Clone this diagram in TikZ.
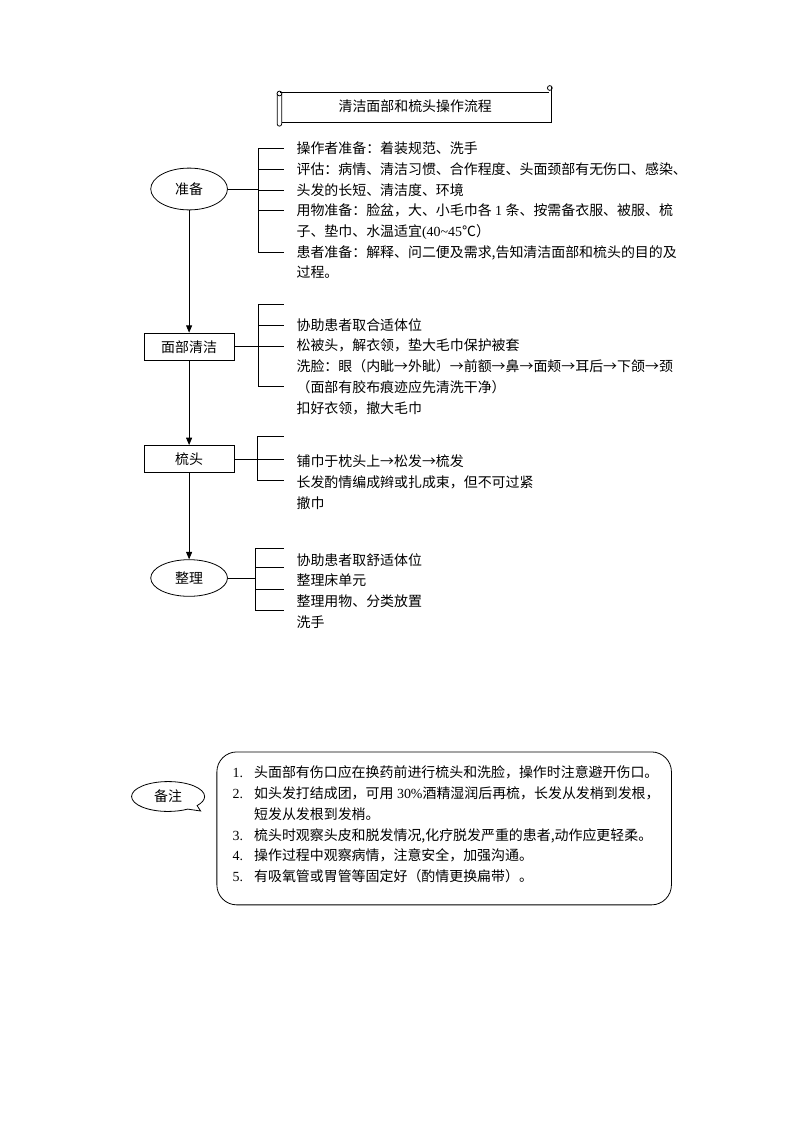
\documentclass[tikz,border=0pt]{standalone}
\usepackage{fontspec}
\setmainfont{Liberation Serif}
\newfontfamily\cjk{Noto Sans CJK SC}
\usetikzlibrary{arrows.meta, positioning, shapes.geometric, shapes.callouts}

\begin{document}
\begin{tikzpicture}[
    x=0.026482cm, y=-0.026471cm,
    line width=0.6pt,
    every node/.style={font=\cjk\fontsize{10.5}{15.6}\selectfont, inner sep=0pt},
    oval/.style={draw, ellipse, minimum width=57.8pt, minimum height=31.5pt},
    stepbox/.style={draw, rectangle, minimum width=67.6pt, minimum height=20.5pt},
    items/.style={anchor=north west, align=left},
    flow/.style={-{Triangle[length=5.5pt,width=4.5pt]}}
]
\useasboundingbox (0,0) rectangle (793,1122);

% title scroll
\draw (280,92) -- (549,92);
\draw (551.5,87) -- (551.5,122) -- (281.5,122);
\draw (277,94) -- (277,124) to[out=-90,in=-90,looseness=1.6] (281.5,124) -- (281.5,94);
\draw (279.3,93.5) circle[radius=1.8pt];
\draw (549.5,88) circle[radius=1.8pt];
\node (title) at (415,106) {清洁面部和梳头操作流程};

% main steps
\node[oval] (zb) at (189,189) {准备};
\node[stepbox] (mb) at (189,346.7) {面部清洁};
\node[stepbox] (st) at (189,459) {梳头};
\node[oval, minimum height=27.6pt] (zl) at (189,578) {整理};

\draw[flow] (zb.south) -- (mb.north);
\draw[flow] (mb.south) -- (st.north);
\draw[flow] (st.south) -- (zl.north);

% brackets
\coordinate (zbtop) at (258,148.3);
\coordinate (zbbot) at (258,252.7);
\draw (zb.east) -- (zb.east -| zbtop);
\draw (zbtop) -- (zbbot);
\foreach \y [count=\i] in {148.3,169.3,190,210.7,252.7} {
  \coordinate (zb-b\i) at (283.5,\y);
  \draw (zb-b\i -| zbtop) -- (zb-b\i);
}

\coordinate (mbtop) at (258,304);
\coordinate (mbbot) at (258,386.7);
\draw (mb.east) -- (mb.east -| mbtop);
\draw (mbtop) -- (mbbot);
\foreach \y [count=\i] in {304,325,386.7} {
  \coordinate (mb-b\i) at (283.5,\y);
  \draw (mb-b\i -| mbtop) -- (mb-b\i);
}
\draw (mb.east -| mbtop) -- (283.5,0 |- mb.east);

\coordinate (sttop) at (257,436.7);
\coordinate (stbot) at (257,480.7);
\draw (st.east) -- (st.east -| sttop);
\draw (sttop) -- (stbot);
\foreach \y [count=\i] in {436.7,480.7} {
  \coordinate (st-b\i) at (283.5,\y);
  \draw (st-b\i -| sttop) -- (st-b\i);
}
\draw (st.east -| sttop) -- (283.5,0 |- st.east);

\coordinate (zltop) at (255,548.3);
\coordinate (zlbot) at (255,610.7);
\draw (zl.east) -- (zl.east -| zltop);
\draw (zltop) -- (zlbot);
\foreach \y [count=\i] in {548.3,567.7,589.3,610.7} {
  \coordinate (zl-b\i) at (283.5,\y);
  \draw (zl-b\i -| zltop) -- (zl-b\i);
}

% item texts
\node[items] (zbtext) at (296,141.5) {操作者准备：着装规范、洗手\\%
评估：病情、清洁习惯、合作程度、头面颈部有无伤口、感染、\\%
头发的长短、清洁度、环境\\%
用物准备：脸盆，大、小毛巾各{\rmfamily\ 1\ }条、按需备衣服、被服、梳\\%
子、垫巾、水温适宜{\rmfamily(40\textasciitilde45}℃）\\%
患者准备：解释、问二便及需求,告知清洁面部和梳头的目的及\\%
过程。};

\node[items] (mbtext) at (296,318) {协助患者取合适体位\\%
松被头，解衣领，垫大毛巾保护被套\\%
洗脸：眼（内眦→外眦）→前额→鼻→面颊→耳后→下颌→颈\\%
（面部有胶布痕迹应先清洗干净）\\%
扣好衣领，撤大毛巾};

\node[items] (sttext) at (296,454.7) {铺巾于枕头上→松发→梳发\\%
长发酌情编成辫或扎成束，但不可过紧\\%
撤巾};

\node[items] (zltext) at (296,553) {协助患者取舒适体位\\%
整理床单元\\%
整理用物、分类放置\\%
洗手};

% notes
\node[draw, rounded corners=15pt, minimum width=342.4pt, minimum height=115.2pt] (notebox) at (443.9,828.4) {};
\node[ellipse callout, draw, minimum width=55pt, minimum height=22.5pt,
      callout pointer arc=20, callout absolute pointer={(200.5,811)}] (bz) at (168,796.5) {备注};
\node[items] (notetext) at (232,765.7) {\makebox[16.3pt][l]{\rmfamily 1.}头面部有伤口应在换药前进行梳头和洗脸，操作时注意避开伤口。\\%
\makebox[16.3pt][l]{\rmfamily 2.}如头发打结成团，可用{\rmfamily\ 30\%}酒精湿润后再梳，长发从发梢到发根，\\%
\hspace*{16.3pt}短发从发根到发梢。\\%
\makebox[16.3pt][l]{\rmfamily 3.}梳头时观察头皮和脱发情况,化疗脱发严重的患者,动作应更轻柔。\\%
\makebox[16.3pt][l]{\rmfamily 4.}操作过程中观察病情，注意安全，加强沟通。\\%
\makebox[16.3pt][l]{\rmfamily 5.}有吸氧管或胃管等固定好（酌情更换扁带）。};
\end{tikzpicture}
\end{document}
